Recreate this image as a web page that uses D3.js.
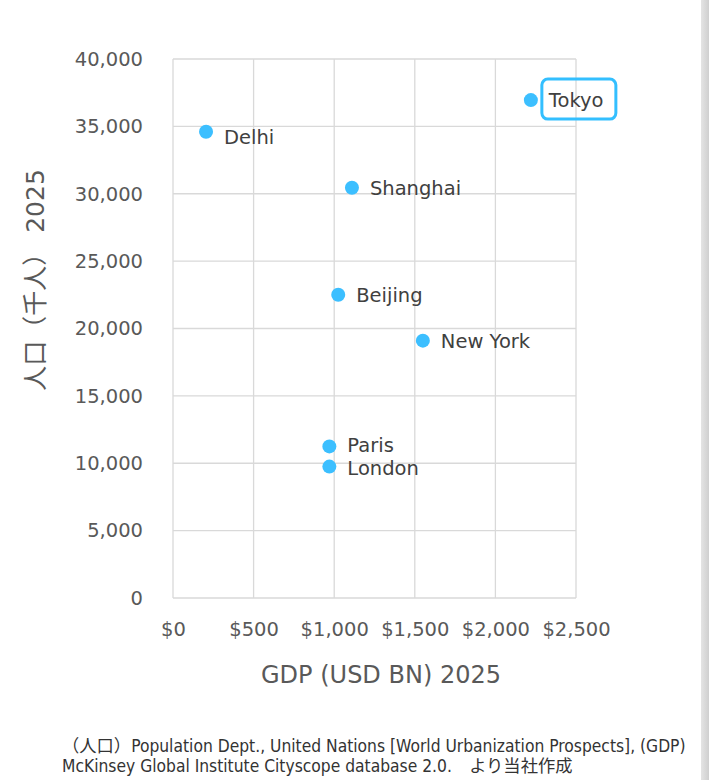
<!DOCTYPE html>
<html><head><meta charset="utf-8">
<script src="https://cdn.jsdelivr.net/npm/d3@7"></script>
<style>
body{margin:0;background:#fff;}
svg{display:block;font-family:"DejaVu Sans",Verdana,sans-serif;}
</style></head>
<body>
<svg id="c" width="709" height="780"></svg>
<script>
const cities = ["Tokyo","Delhi","Shanghai","Beijing","New York","Paris","London"];
const gdp = [2220, 205, 1110, 1025, 1550, 970, 970];
const population = [36950, 34600, 30450, 22500, 19100, 11250, 9750];
const xTicks = [0,500,1000,1500,2000,2500];
const yTicks = [0,5000,10000,15000,20000,25000,30000,35000,40000];
const xTitle = "GDP (USD BN) 2025";
const yTitleJa = "人口（千人）";
const yTitleYear = " 2025";
const notes = ["（人口）Population Dept., United Nations [World Urbanization Prospects], (GDP)",
               "McKinsey Global Institute Cityscope database 2.0.　より当社作成"];

const svg = d3.select("#c");
const grad = svg.append("defs").append("linearGradient").attr("id","g").attr("x1","0").attr("x2","1");
grad.append("stop").attr("offset","0").attr("stop-color","#e4e4e4");
grad.append("stop").attr("offset","1").attr("stop-color","#cfcfcf");
svg.append("rect").attr("x",701).attr("y",0).attr("width",8).attr("height",780).attr("fill","url(#g)");

const x = d3.scaleLinear().domain([0,2500]).range([173,576]);
const y = d3.scaleLinear().domain([0,40000]).range([598,59]);

const grid = svg.append("g");
grid.selectAll("line.v").data(xTicks).join("line")
  .attr("x1",d=>x(d)).attr("x2",d=>x(d)).attr("y1",y(0)).attr("y2",y(40000))
  .attr("stroke","#d9d9d9").attr("stroke-width",1.3);
grid.selectAll("line.h").data(yTicks).join("line")
  .attr("y1",d=>y(d)).attr("y2",d=>y(d)).attr("x1",x(0)).attr("x2",x(2500))
  .attr("stroke","#d9d9d9").attr("stroke-width",1.3);

const xAxis = d3.axisBottom(x).tickValues(xTicks).tickSize(0).tickPadding(24)
  .tickFormat(d=>"$"+d3.format(",")(d));
svg.append("g").attr("transform",`translate(0,${y(0)})`).call(xAxis)
  .call(g=>g.select(".domain").remove())
  .selectAll("text").attr("font-size",19.5).attr("fill","#595959").attr("font-family","DejaVu Sans, sans-serif");

const yAxis = d3.axisLeft(y).tickValues(yTicks).tickSize(0).tickPadding(30)
  .tickFormat(d3.format(","));
svg.append("g").attr("transform",`translate(${x(0)},0)`).call(yAxis)
  .call(g=>g.select(".domain").remove())
  .selectAll("text").attr("font-size",19.5).attr("fill","#595959").attr("font-family","DejaVu Sans, sans-serif");

svg.append("text").attr("x",381).attr("y",683).attr("text-anchor","middle")
  .attr("font-size",24).attr("fill","#595959").text(xTitle);
const yt = svg.append("text").attr("transform","translate(44,280) rotate(-90)").attr("text-anchor","middle")
  .attr("font-size",25).attr("fill","#595959");
yt.append("tspan").attr("font-family","'Noto Sans CJK JP', sans-serif").text(yTitleJa);
yt.append("tspan").attr("font-family","'DejaVu Sans', sans-serif").text(yTitleYear);

const data = cities.map((c,i)=>({c, g:gdp[i], p:population[i]}));
svg.selectAll("circle.pt").data(data).join("circle")
  .attr("cx",d=>x(d.g)).attr("cy",d=>y(d.p)).attr("r",7).attr("fill","#3cbfff");

svg.selectAll("text.lbl").data(data).join("text")
  .attr("x",d=>x(d.g)+18)
  .attr("y",d=>y(d.p)+7+(d.c==="Delhi"?5:0)+(d.c==="Paris"?-1:0)+(d.c==="London"?1:0))
  .attr("font-size",19.5).attr("fill","#404040").text(d=>d.c);

const t = data[0];
svg.append("rect").attr("x",x(t.g)+11).attr("y",y(t.p)-21).attr("width",74).attr("height",40)
  .attr("rx",6).attr("fill","none").attr("stroke","#33bfff").attr("stroke-width",3);

svg.selectAll("text.note").data(notes).join("text")
  .attr("x",62).attr("y",(d,i)=>752+i*20).attr("font-size",17.3).attr("fill","#333")
  .attr("font-family","'DejaVu Sans Condensed','Noto Sans CJK JP', sans-serif")
  .text(d=>d);
</script>
</body></html>
